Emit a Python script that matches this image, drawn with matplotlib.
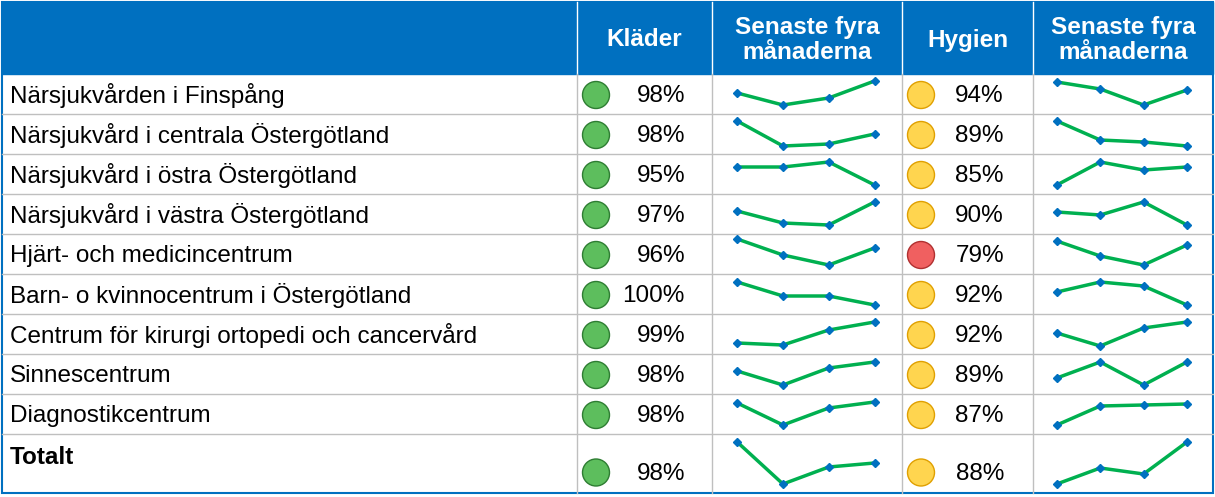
import matplotlib.pyplot as plt
from matplotlib.patches import Rectangle, Circle

### Daten
enheter = ["Närsjukvården i Finspång", "Närsjukvård i centrala Östergötland",
           "Närsjukvård i östra Östergötland", "Närsjukvård i västra Östergötland",
           "Hjärt- och medicincentrum", "Barn- o kvinnocentrum i Östergötland",
           "Centrum för kirurgi ortopedi och cancervård", "Sinnescentrum",
           "Diagnostikcentrum", "Totalt"]
klader = [98, 98, 95, 97, 96, 100, 99, 98, 98, 98]
hygien = [94, 89, 85, 90, 79, 92, 92, 89, 87, 88]
# trend, senaste fyra manaderna (avlast nivå, hogre tal = lagre punkt)
trend_k = [[93, 105, 98, 81], [121, 146, 144, 134], [167, 167, 162, 185],
           [211, 223, 225, 202], [239, 255, 265, 248], [282, 296, 296, 305],
           [343, 345, 330, 322], [371, 385, 368, 362], [403, 425, 408, 402],
           [442, 484, 467, 463]]
trend_h = [[82, 89, 105, 90], [121, 140, 142, 146], [185, 162, 170, 167],
           [212, 215, 202, 225], [241, 256, 265, 245], [292, 282, 286, 305],
           [333, 346, 328, 322], [378, 362, 385, 362], [425, 406, 405, 404],
           [484, 468, 474, 442]]

W, H = 1215, 497
rader = [74, 114, 154, 194, 234, 274, 314, 354, 394, 434, 493]
kol = [2, 577, 712, 902, 1033, 1213]
blau = "#0070C0"
grau = "#BFBFBF"
plt.rcParams["font.family"] = "Liberation Sans"

fig = plt.figure(figsize=(W / 100, H / 100), dpi=100)
ax = fig.add_axes([0, 0, 1, 1])
ax.set_xlim(0, W)
ax.set_ylim(H, 0)
ax.axis("off")

# Kopf
ax.add_patch(Rectangle((kol[0], 2), kol[-1] - kol[0], rader[0] - 2, color=blau))
for x in kol[1:-1]:
    ax.plot([x, x], [2, rader[0]], color="white", lw=1)
    ax.plot([x, x], [rader[0], rader[-1]], color=grau, lw=1)
for y in rader[1:-1]:
    ax.plot([kol[0], kol[-1]], [y, y], color=grau, lw=1)
ax.add_patch(Rectangle((kol[0], 2), kol[-1] - kol[0], rader[-1] - 2,
                       fill=False, ec=blau, lw=1.5))
kopf = ["Kläder", "Senaste fyra\nmånaderna", "Hygien", "Senaste fyra\nmånaderna"]
for i, t in enumerate(kopf):
    ax.text((kol[i + 1] + kol[i + 2]) / 2, 40, t, color="white", fontsize=17.5,
            fontweight="bold", ha="center", va="center", linespacing=1.1)

def farbe(v):
    if v >= 95:
        return "#5DBE5D", "#2E7D32"
    if v >= 80:
        return "#FFD54F", "#E0A000"
    return "#F06060", "#B03030"

for i, name in enumerate(enheter):
    y0, y1 = rader[i], rader[i + 1]
    yc = (y0 + y1) / 2 + 2
    total = name == "Totalt"
    ax.text(10, yc - (8 if total else 0), name, fontsize=17.5, va="center",
            fontweight="bold" if total else "normal")
    ty = yc + (8 if total else 0)
    for wert, xc, xt in [(klader[i], 596, 685), (hygien[i], 921, 1004)]:
        fc, ec = farbe(wert)
        ax.add_patch(Circle((xc, ty - 1), 13.5, fc=fc, ec=ec, lw=1))
        ax.text(xt, ty, f"{wert}%", fontsize=17.5, ha="right", va="center")
    for werte, x_l, x_r in [(trend_k[i], kol[2], kol[3]), (trend_h[i], kol[4], kol[5])]:
        sa = fig.add_axes([x_l / W, 1 - y1 / H, (x_r - x_l) / W, (y1 - y0) / H])
        sa.set_xlim(-0.55, 3.6)
        sa.set_ylim(y1, y0)
        sa.axis("off")
        sa.plot(range(4), werte, color="#00B050", lw=2.5, marker="D",
                ms=4, mfc=blau, mec=blau)

fig.savefig("out.png", dpi=100)
